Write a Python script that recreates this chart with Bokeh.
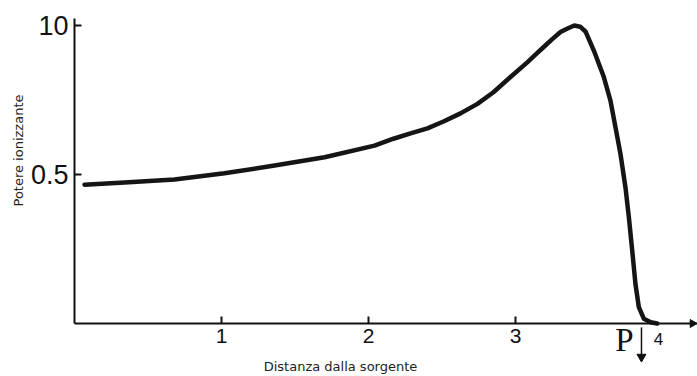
import math
from bokeh.plotting import figure
from bokeh.models import Range1d, FixedTicker, Label, LinearAxis
from bokeh.embed import file_html
from bokeh.resources import INLINE

# ---- data ----
distance = [0.068, 0.340, 0.680, 1.020, 1.361, 1.701, 2.041, 2.170, 2.286,
            2.401, 2.510, 2.626, 2.741, 2.850, 2.966, 3.082, 3.136, 3.190,
            3.252, 3.306, 3.354, 3.400, 3.440, 3.476, 3.533, 3.601, 3.646,
            3.680, 3.714, 3.748, 3.771, 3.794, 3.816, 3.839, 3.873, 3.920,
            3.964]
power = [0.466, 0.473, 0.483, 0.504, 0.530, 0.558, 0.597, 0.620, 0.638,
         0.655, 0.678, 0.705, 0.737, 0.776, 0.827, 0.877, 0.902, 0.927,
         0.955, 0.978, 0.990, 1.000, 0.996, 0.980, 0.916, 0.827, 0.748,
         0.659, 0.569, 0.457, 0.357, 0.245, 0.133, 0.055, 0.016, 0.004,
         0.0]

x_ticks = [1, 2, 3]
x_tick_labels = ["1", "2", "3"]
y_ticks = [0.5, 1.0]
y_tick_labels = ["0.5", "10"]
x_title = "Distanza dalla sorgente"
y_title = "Potere ionizzante"
marker_text = "P"
marker_x = 3.857
end_text = "4"
end_x = 3.973

# ---- layout (data-space extents of the drawing) ----
X0, X1 = -0.5034, 4.2381
Y0, Y1 = -0.17785, 1.08389
Y_AXIS_TOP = 1.0235

p = figure(width=697, height=376, output_backend="svg", toolbar_location=None,
           x_range=Range1d(X0, X1), y_range=Range1d(Y0, Y1),
           x_axis_type=None, y_axis_type=None,
           min_border=0, min_border_left=0, min_border_right=0,
           min_border_top=0, min_border_bottom=0)
p.outline_line_color = None
p.background_fill_color = "white"
p.border_fill_color = "white"

p.line(distance, power, line_width=4.5, line_color="#151515", line_join="round",
       line_cap="round")

# axes placed at the origin
xax = LinearAxis(fixed_location=0, bounds=(0, X1),
                 ticker=FixedTicker(ticks=x_ticks, minor_ticks=[]))
xax.major_label_overrides = {t: s for t, s in zip(x_ticks, x_tick_labels)}
yax = LinearAxis(fixed_location=0, bounds=(0, Y_AXIS_TOP),
                 ticker=FixedTicker(ticks=y_ticks, minor_ticks=[]))
yax.major_label_overrides = {t: s for t, s in zip(y_ticks, y_tick_labels)}
for ax in (xax, yax):
    ax.axis_line_width = 2
    ax.axis_line_color = "#111111"
    ax.major_tick_line_width = 2
    ax.major_tick_line_color = "#111111"
    ax.major_tick_in = 7
    ax.major_tick_out = 0
    ax.minor_tick_line_color = None
    ax.major_label_text_color = "#111111"
    ax.major_label_text_font = "Liberation Sans"
xax.major_label_text_font_size = "21px"
xax.major_label_standoff = 5
yax.major_label_text_font_size = "27px"
yax.major_label_standoff = 6
p.add_layout(xax, "below")
p.add_layout(yax, "left")

# end-of-axis arrowhead
p.scatter([X1 - 0.034], [0], marker="triangle", size=8, angle=-math.pi / 2,
          fill_color="#111111", line_color="#111111")

# axis titles
p.add_layout(Label(x=-0.381, y=0.5805, text=y_title, angle=math.pi / 2,
                   text_align="center", text_baseline="middle",
                   text_font="DejaVu Sans", text_font_size="13px",
                   text_color="#222222"))
p.add_layout(Label(x=1.8095, y=-0.1443, text=x_title,
                   text_align="center", text_baseline="middle",
                   text_font="DejaVu Sans", text_font_size="13px",
                   text_color="#222222"))

# P marker and its arrow
p.add_layout(Label(x=marker_x - 0.1155, y=-0.0537, text=marker_text,
                   text_align="center", text_baseline="middle",
                   text_font="Liberation Serif", text_font_size="33px",
                   text_color="#111111"))
p.segment(x0=[marker_x], y0=[-0.013], x1=[marker_x], y1=[-0.108],
          line_width=1.5, line_color="#111111")
p.scatter([marker_x], [-0.112], marker="inverted_triangle", size=9,
          fill_color="#111111", line_color="#111111")
p.add_layout(Label(x=end_x, y=-0.0504, text=end_text,
                   text_align="center", text_baseline="middle",
                   text_font="Liberation Sans", text_font_size="17px",
                   text_color="#111111"))

open("out.html", "w").write(file_html(p, INLINE))
